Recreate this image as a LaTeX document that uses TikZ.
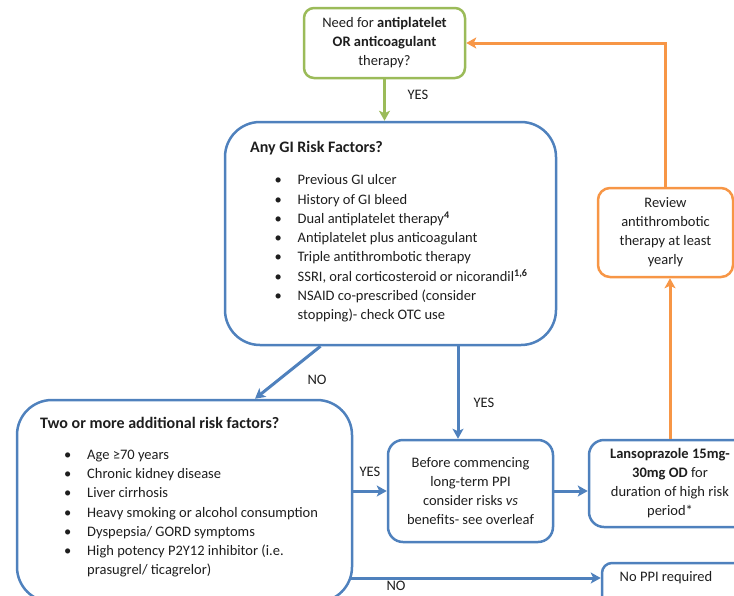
\documentclass[tikz,border=0pt]{standalone}
\usepackage{fontspec}
\setmainfont{Carlito}
\usetikzlibrary{arrows.meta}
\definecolor{gblue}{RGB}{79,129,189}
\definecolor{ggreen}{RGB}{155,187,89}
\definecolor{gorange}{RGB}{247,150,70}
\definecolor{txtc}{RGB}{30,30,30}
\tikzset{
  box/.style={draw=gblue,line width=2.5pt,rounded corners=15pt,inner sep=0pt,
    align=center,text=txtc,font=\fontsize{14.5}{19}\selectfont},
  bigbox/.style={box,rounded corners=35pt},
  lbl/.style={inner sep=0pt,text=txtc,font=\fontsize{14.5}{15}\selectfont},
  boxtitle/.style={lbl,font=\fontsize{16}{18}\selectfont\bfseries,anchor=west},
  itemlist/.style={inner sep=0pt,align=left,text=txtc,font=\fontsize{14.5}{19.3}\selectfont},
  flow/.style={draw=gblue,line width=3pt,-{Stealth[length=10pt,width=11pt,inset=2.5pt]}},
}
\newcommand{\bul}{\makebox[23pt][l]{\textbullet}}

\begin{document}
\begin{tikzpicture}[x=1pt,y=-1pt]
  \useasboundingbox (0,0) rectangle (734,595);
  \clip (0,0) rectangle (734,595);

  % boxes
  \node[box,draw=ggreen,rounded corners=10pt,minimum width=161pt,minimum height=70pt] (need) at (384.5,43)
    {Need for \textbf{antiplatelet}\\\textbf{OR anticoagulant}\\therapy?};
  \node[bigbox,minimum width=331pt,minimum height=223pt] (gi) at (390.5,233.5) {};
  \node[bigbox,minimum width=335pt,minimum height=202pt] (tf) at (184.5,501) {};
  \node[box,minimum width=165pt,minimum height=102pt] (mid) at (470.5,491)
    {Before commencing\\long-term PPI\\consider risks \textit{vs}\\benefits- see overleaf};
  \node[box,minimum width=162pt,minimum height=87pt] (lanso) at (670,483.5)
    {\textbf{Lansoprazole 15mg-}\\\textbf{30mg OD} for\\duration of high risk\\period*};
  \node[box,draw=gorange,rounded corners=12pt,minimum width=135pt,minimum height=89pt] (review) at (665.5,232.5)
    {Review\\antithrombotic\\therapy at least\\yearly};
  \node[box,rounded corners=10pt,minimum width=143pt,minimum height=44pt] (nopp) at (673.5,585) {};
  \node[lbl] (nopptext) at (666,578) {No PPI required};

  % box contents
  \node[boxtitle] (gititle) at (250,148) {Any GI Risk Factors?};
  \node[itemlist,anchor=north west] (gilist) at (274.5,174.5) {%
    \bul Previous GI ulcer\\
    \bul History of GI bleed\\
    \bul Dual antiplatelet therapy\textsuperscript{\bfseries 4}\\
    \bul Antiplatelet plus anticoagulant\\
    \bul Triple antithrombotic therapy\\
    \bul SSRI, oral corticosteroid or nicorandil\textsuperscript{\bfseries 1,6}\\
    \bul NSAID co-prescribed (consider\\
    \hspace*{23pt}stopping)- check OTC use};
  \node[boxtitle] (tftitle) at (40,423) {Two or more additional risk factors?};
  \node[itemlist,anchor=north west] (tflist) at (64,449.5) {%
    \bul Age ≥70 years\\
    \bul Chronic kidney disease\\
    \bul Liver cirrhosis\\
    \bul Heavy smoking or alcohol consumption\\
    \bul Dyspepsia/ GORD symptoms\\
    \bul High potency P2Y12 inhibitor (i.e.\\
    \hspace*{23pt}prasugrel/ ticagrelor)};

  % connectors
  \draw[flow,draw=ggreen] (need.south) -- (need.south |- gi.north);
  \draw[flow] ([xshift=-70pt]gi.south) -- ([xshift=70.5pt]tf.north);
  \draw[flow] ([xshift=67.5pt]gi.south) -- ([xshift=67.5pt]gi.south |- mid.north);
  \draw[flow] (tf.east |- mid.west) -- (mid.west);
  \draw[flow] (mid.east) -- (mid.east -| lanso.west);
  \draw[flow] ([xshift=-3pt]tf.east |- 0,578) -- (nopp.west |- 0,578);
  \draw[flow,draw=gorange] (lanso.north) -- (lanso.north |- review.south);
  \draw[flow,draw=gorange] (review.north) |- (need.east);

  % labels
  \node[lbl] (yes1) at (418,95) {YES};
  \node[lbl] (no1) at (317,380) {NO};
  \node[lbl] (yes2) at (484,403) {YES};
  \node[lbl] (yes3) at (370,472) {YES};
  \node[lbl] (no2) at (396,586) {NO};
\end{tikzpicture}
\end{document}
